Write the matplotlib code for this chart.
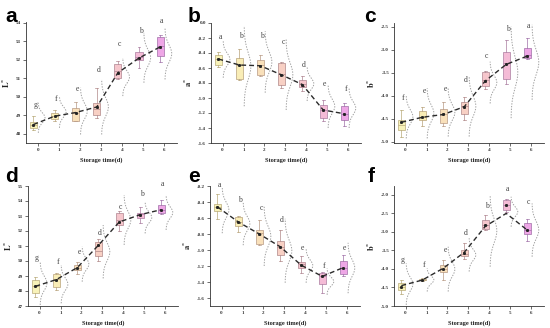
import numpy as np
import matplotlib
matplotlib.use("Agg")
import matplotlib.pyplot as plt

plt.rcParams['mathtext.fontset'] = 'stix'

days = [0, 1, 2, 3, 4, 5, 6]
xtick_labels = ['0', '1', '2', '3', '4', '5', '6']
xlabel_text = 'Storage time(d)'

# ---------- panel a : L* ----------
a_whislo = [48.18, 48.67, 48.67, 48.85, 50.94, 51.57, 51.87]
a_q1 = [48.31, 48.79, 48.70, 49.03, 51.03, 52.02, 52.20]
a_med = [48.47, 48.94, 49.15, 49.35, 51.39, 52.16, 52.74]
a_q3 = [48.61, 49.12, 49.42, 49.66, 51.80, 52.41, 53.23]
a_whishi = [48.97, 49.26, 49.71, 50.47, 51.96, 52.70, 53.32]
a_mean = [48.50, 48.95, 49.15, 49.45, 51.30, 52.10, 52.70]
a_trend = [48.50, 48.95, 49.15, 49.45, 51.30, 52.10, 52.70]
a_dist_lo = [48.05, 48.32, 47.96, 47.96, 50.04, 50.76, 50.94]
a_dist_hi = [49.68, 50.04, 50.49, 50.94, 52.10, 53.46, 53.73]
a_letters = ['g', 'f', 'e', 'd', 'c', 'b', 'a']
a_letter_y = [49.53, 49.89, 50.43, 51.44, 52.88, 53.55, 54.09]
a_yticks = [48, 49, 50, 51, 52, 53, 54]

# ---------- panel b : a* ----------
b_whislo = [-0.58, -0.76, -0.71, -0.86, -0.90, -1.31, -1.37]
b_q1 = [-0.56, -0.75, -0.69, -0.83, -0.85, -1.27, -1.29]
b_med = [-0.48, -0.56, -0.56, -0.68, -0.81, -1.16, -1.21]
b_q3 = [-0.42, -0.47, -0.49, -0.53, -0.76, -1.09, -1.10]
b_whishi = [-0.39, -0.34, -0.42, -0.52, -0.71, -1.02, -1.07]
b_mean = [-0.48, -0.56, -0.57, -0.69, -0.82, -1.16, -1.21]
b_trend = [-0.48, -0.56, -0.57, -0.69, -0.82, -1.16, -1.21]
b_dist_lo = [-0.73, -1.11, -0.93, -1.16, -1.04, -1.40, -1.40]
b_dist_hi = [-0.24, -0.04, -0.11, -0.22, -0.58, -0.82, -0.87]
b_letters = ['a', 'b', 'b', 'c', 'd', 'e', 'f']
b_letter_y = [-0.19, -0.17, -0.17, -0.26, -0.56, -0.81, -0.88]
b_yticks = [0.0, -0.2, -0.4, -0.6, -0.8, -1.0, -1.2, -1.4, -1.6]

# ---------- panel c : b* ----------
c_whislo = [-4.89, -4.66, -4.66, -4.53, -3.86, -3.75, -3.21]
c_q1 = [-4.75, -4.54, -4.60, -4.41, -3.78, -3.64, -3.19]
c_med = [-4.64, -4.46, -4.41, -4.22, -3.66, -3.30, -3.12]
c_q3 = [-4.53, -4.33, -4.28, -4.13, -3.48, -3.06, -2.97]
c_whishi = [-4.31, -4.24, -4.13, -4.04, -3.46, -2.78, -2.75]
c_mean = [-4.58, -4.47, -4.41, -4.24, -3.68, -3.32, -3.14]
c_trend = [-4.58, -4.47, -4.41, -4.24, -3.68, -3.32, -3.14]
c_dist_lo = [-4.93, -4.93, -4.89, -4.89, -4.17, -4.49, -4.09]
c_dist_hi = [-3.99, -3.84, -3.84, -3.57, -3.26, -2.50, -2.46]
c_letters = ['f', 'e', 'e', 'd', 'c', 'b', 'a']
c_letter_y = [-4.06, -3.89, -3.86, -3.66, -3.14, -2.56, -2.49]
c_yticks = [-2.5, -3.0, -3.5, -4.0, -4.5, -5.0]

# ---------- panel d : L* ----------
d_whislo = [47.60, 48.09, 49.16, 49.98, 52.00, 52.53, 53.16]
d_q1 = [47.87, 48.27, 49.38, 50.31, 52.38, 52.87, 53.22]
d_med = [48.31, 48.82, 49.56, 50.67, 52.76, 53.11, 53.42]
d_q3 = [48.71, 49.11, 49.71, 51.27, 53.22, 53.22, 53.71]
d_whishi = [48.93, 49.20, 49.93, 51.49, 53.33, 53.60, 54.04]
d_mean = [48.31, 48.76, 49.56, 51.04, 52.60, 53.09, 53.42]
d_trend = [48.31, 48.76, 49.56, 51.04, 52.60, 53.09, 53.42]
d_dist_lo = [47.07, 47.18, 48.62, 48.84, 51.07, 51.84, 52.07]
d_dist_hi = [49.96, 49.73, 50.96, 52.40, 54.40, 53.96, 54.40]
d_letters = ['g', 'f', 'e', 'd', 'c', 'b', 'a']
d_letter_y = [50.22, 49.96, 50.62, 51.84, 53.62, 54.47, 55.13]
d_yticks = [47, 48, 49, 50, 51, 52, 53, 54, 55]

# ---------- panel e : a* ----------
e_whislo = [-0.61, -0.77, -0.94, -1.14, -1.29, -1.54, -1.33]
e_q1 = [-0.51, -0.70, -0.93, -1.06, -1.22, -1.42, -1.30]
e_med = [-0.46, -0.65, -0.79, -0.96, -1.18, -1.32, -1.23]
e_q3 = [-0.42, -0.59, -0.75, -0.89, -1.15, -1.29, -1.14]
e_whishi = [-0.30, -0.58, -0.62, -0.75, -1.08, -1.27, -1.06]
e_mean = [-0.46, -0.65, -0.80, -0.96, -1.19, -1.33, -1.22]
e_trend = [-0.46, -0.65, -0.80, -0.96, -1.19, -1.33, -1.22]
e_dist_lo = [-0.79, -0.94, -1.20, -1.41, -1.41, -1.56, -1.54]
e_dist_hi = [-0.21, -0.40, -0.46, -0.61, -0.98, -1.23, -0.91]
e_letters = ['a', 'b', 'c', 'd', 'e', 'f', 'e']
e_letter_y = [-0.19, -0.37, -0.47, -0.62, -0.98, -1.20, -0.98]
e_yticks = [-0.2, -0.4, -0.6, -0.8, -1.0, -1.2, -1.4, -1.6]

# ---------- panel f : b* ----------
f_whislo = [-4.68, -4.33, -4.29, -3.72, -2.95, -2.46, -3.25]
f_q1 = [-4.58, -4.31, -4.08, -3.66, -2.91, -2.40, -3.06]
f_med = [-4.49, -4.29, -3.99, -3.59, -2.82, -2.28, -2.94]
f_q3 = [-4.38, -4.26, -3.90, -3.50, -2.67, -2.14, -2.76]
f_whishi = [-4.31, -4.24, -3.75, -3.30, -2.55, -2.10, -2.64]
f_mean = [-4.48, -4.29, -3.99, -3.58, -2.80, -2.27, -2.94]
f_trend = [-4.45, -4.30, -3.98, -3.55, -2.85, -2.50, -2.95]
f_dist_lo = [-4.97, -4.61, -4.61, -4.07, -3.94, -2.86, -3.67]
f_dist_hi = [-3.85, -3.98, -3.40, -3.17, -2.00, -2.05, -2.23]
f_letters = ['g', 'f', 'e', 'd', 'b', 'a', 'c']
f_letter_y = [-3.76, -3.89, -3.49, -3.04, -2.30, -1.85, -2.18]
f_yticks = [-2.0, -2.5, -3.0, -3.5, -4.0, -4.5, -5.0]

# ---------- styles ----------
fills = ['#F8F2B8', '#F9EDB6', '#F9E0BA', '#F8D0C4', '#F6C6CC', '#F4BBD6', '#EEA6E6']
edges = ['#B8AA78', '#B8A27A', '#B89A84', '#B08888', '#AE8490', '#AA7CA0', '#A070A8']
serif = 'Liberation Serif'
W, H = 550, 328

panels = [
    dict(tag='a', pos=(26, 22, 151, 121), ylim=(47.5, 54.05), ylabel=r'$\mathbf{L^{*}}$', fmt='{:.0f}',
         data=(a_whislo, a_q1, a_med, a_q3, a_whishi, a_mean, a_trend, a_dist_lo, a_dist_hi, a_letters, a_letter_y, a_yticks),
         lpos=(5, 22)),
    dict(tag='b', pos=(211, 23, 150, 120), ylim=(-1.6, 0.0), ylabel=r'$\mathbf{a^{*}}$', fmt='{:.1f}',
         data=(b_whislo, b_q1, b_med, b_q3, b_whishi, b_mean, b_trend, b_dist_lo, b_dist_hi, b_letters, b_letter_y, b_yticks),
         lpos=(188, 22)),
    dict(tag='c', pos=(394, 23, 150, 120), ylim=(-5.03, -2.42), ylabel=r'$\mathbf{b^{*}}$', fmt='{:.1f}',
         data=(c_whislo, c_q1, c_med, c_q3, c_whishi, c_mean, c_trend, c_dist_lo, c_dist_hi, c_letters, c_letter_y, c_yticks),
         lpos=(364, 22)),
    dict(tag='d', pos=(28, 186, 150, 120), ylim=(47, 55), ylabel=r'$\mathbf{L^{*}}$', fmt='{:.0f}',
         data=(d_whislo, d_q1, d_med, d_q3, d_whishi, d_mean, d_trend, d_dist_lo, d_dist_hi, d_letters, d_letter_y, d_yticks),
         lpos=(5, 182)),
    dict(tag='e', pos=(210, 186, 150, 120), ylim=(-1.7, -0.2), ylabel=r'$\mathbf{a^{*}}$', fmt='{:.1f}',
         data=(e_whislo, e_q1, e_med, e_q3, e_whishi, e_mean, e_trend, e_dist_lo, e_dist_hi, e_letters, e_letter_y, e_yticks),
         lpos=(188, 182)),
    dict(tag='f', pos=(394, 186, 150, 120), ylim=(-5.0, -1.76), ylabel=r'$\mathbf{b^{*}}$', fmt='{:.1f}',
         data=(f_whislo, f_q1, f_med, f_q3, f_whishi, f_mean, f_trend, f_dist_lo, f_dist_hi, f_letters, f_letter_y, f_yticks),
         lpos=(368, 182)),
]

fig = plt.figure(figsize=(W / 100, H / 100), dpi=100)
fig.patch.set_facecolor('white')

box_off = -0.2
box_w = 0.34

for p in panels:
    x0, y0, w, h = p['pos']
    ax = fig.add_axes([x0 / W, 1 - (y0 + h) / H, w / W, h / H])
    (wlo, q1, med, q3, whi, mean, trend, dlo, dhi, letters, lety, yticks) = p['data']

    # distribution curves
    for i in range(len(days)):
        yy = np.linspace(dlo[i], dhi[i], 80)
        cc = (dlo[i] + dhi[i]) / 2
        ss = (dhi[i] - dlo[i]) / 6
        xx = days[i] + 0.03 + 0.32 * np.exp(-0.5 * ((yy - cc) / ss) ** 2)
        ax.plot(xx, yy, color='#a0a0a0', lw=0.7, ls=(0, (1.4, 1.4)), zorder=1)

    stats = []
    for i in range(len(days)):
        stats.append(dict(whislo=wlo[i], q1=q1[i], med=med[i], q3=q3[i], whishi=whi[i], fliers=[]))
    positions = [d + box_off for d in days]
    bp = ax.bxp(stats, positions=positions, widths=box_w, patch_artist=True,
                showfliers=False, manage_ticks=False)
    for i, b in enumerate(bp['boxes']):
        b.set_facecolor(fills[i])
        b.set_edgecolor(edges[i])
        b.set_linewidth(0.5)
        b.set_zorder(2)
    for i, m in enumerate(bp['medians']):
        m.set_color(edges[i])
        m.set_linewidth(0.5)
        m.set_zorder(3)
    for i in range(len(days)):
        for ln in bp['whiskers'][2 * i:2 * i + 2] + bp['caps'][2 * i:2 * i + 2]:
            ln.set_color(edges[i])
            ln.set_linewidth(0.5)
    for c in bp['caps']:
        xd = c.get_xdata()
        mid = (xd[0] + xd[1]) / 2
        c.set_xdata([mid - 0.07, mid + 0.07])

    ax.plot(positions, trend, color='#2a2a2a', lw=1.0, ls=(0, (3.5, 2.2)), zorder=4)
    ax.plot(positions, mean, ls='none', marker='s', ms=1.1, color='#222222', zorder=5)

    for i in range(len(days)):
        ax.text(days[i] - 0.12, lety[i], letters[i], ha='center', va='center',
                fontsize=5.6, family=serif, color='#444444', clip_on=False)

    ax.set_xlim(-0.55, 6.6)
    ax.set_ylim(*p['ylim'])
    ax.set_xticks(days)
    ax.set_xticklabels(xtick_labels)
    ax.set_yticks(yticks)
    ax.set_yticklabels([p['fmt'].format(t) for t in yticks])
    for s in ['top', 'right']:
        ax.spines[s].set_visible(False)
    for s in ['left', 'bottom']:
        ax.spines[s].set_linewidth(0.6)
        ax.spines[s].set_color('#333333')
    ax.tick_params(axis='both', which='major', length=2, width=0.5, pad=1.5,
                   labelsize=3.6, colors='#333333', direction='out')
    for lab in ax.get_xticklabels() + ax.get_yticklabels():
        lab.set_family(serif)
        lab.set_fontweight('bold')
    ax.set_xlabel(xlabel_text, fontsize=4.6, family=serif, fontweight='bold', labelpad=4, color='#222222')
    ax.set_ylabel(p['ylabel'], fontsize=6, labelpad=3, color='#222222')
    ax.patch.set_alpha(0)

    fig.text(p['lpos'][0] / W, 1 - p['lpos'][1] / H, p['tag'], fontsize=15,
             family='Liberation Sans', fontweight='bold', ha='left', va='baseline')

fig.savefig('out.png', dpi=100, facecolor='white')
